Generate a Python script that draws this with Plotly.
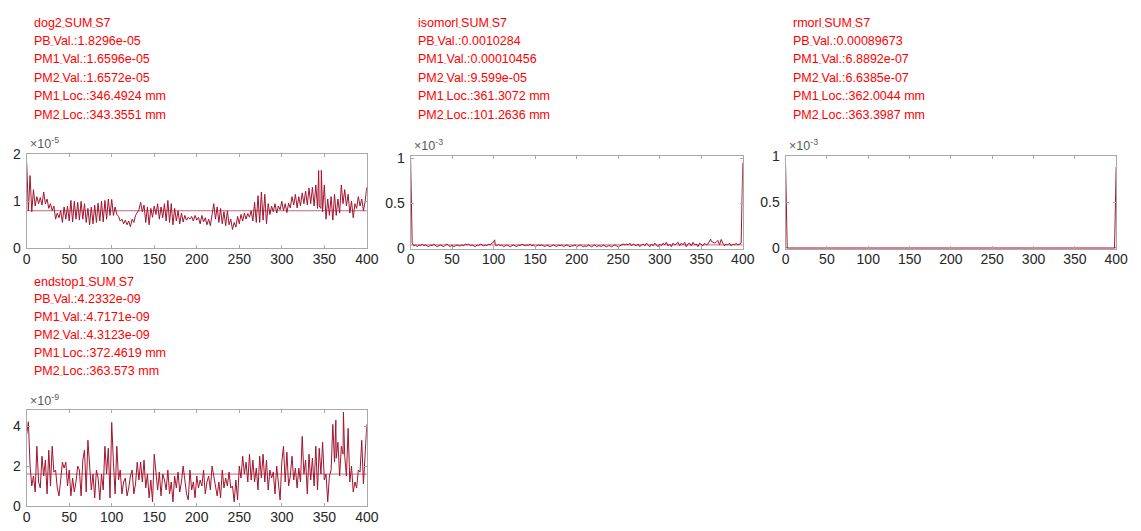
import numpy as np
import plotly.graph_objects as go

W, H = 1141, 531
LINE = "#A2142F"
FRAME = "#a9a9a9"
TICKTXT = "#262626"
FONT = "Liberation Sans, Arial, sans-serif"

# ---- series (2 mm sample step) ----
step_mm = 2

# dog2_SUM_S7, units of 1e-5
dog2_e5 = [
    1.8296, 0.80, 1.55, 0.78, 1.25, 0.90, 1.10, 0.95, 1.08, 0.92,
    1.20, 0.95, 1.05, 0.85, 0.95, 0.80, 0.90, 0.62, 0.75, 0.65,
    0.80, 0.55, 0.88, 0.62, 0.90, 0.58, 1.02, 0.56, 1.00, 0.62,
    0.98, 0.60, 1.00, 0.62, 0.95, 0.55, 0.85, 0.50, 0.88, 0.52,
    0.92, 0.55, 0.96, 0.58, 1.00, 0.56, 1.02, 0.62, 1.05, 0.70,
    1.04, 0.70, 0.88, 0.72, 0.68, 0.58, 0.62, 0.52, 0.60, 0.50,
    0.58, 0.46, 0.62, 0.55, 0.70, 0.76, 0.82, 0.98, 0.78, 0.92,
    0.55, 0.88, 0.50, 0.85, 0.66, 0.90, 0.72, 0.95, 0.62, 0.88,
    0.65, 0.95, 0.58, 1.02, 0.55, 0.95, 0.50, 0.85, 0.58, 0.80,
    0.52, 0.75, 0.56, 0.70, 0.60, 0.66, 0.62, 0.68, 0.58, 0.70,
    0.60, 0.66, 0.52, 0.70, 0.56, 0.65, 0.50, 0.62, 0.48, 0.72,
    0.95, 0.62, 0.88, 0.55, 0.85, 0.52, 0.78, 0.48, 0.80, 0.50,
    0.62, 0.40, 0.55, 0.45, 0.68, 0.52, 0.72, 0.58, 0.75, 0.62,
    0.74, 0.66, 0.80, 0.58, 0.98, 0.55, 1.12, 0.55, 1.20, 0.60,
    1.15, 0.52, 0.95, 0.72, 0.90, 0.78, 0.95, 0.75, 0.90, 0.82,
    1.00, 0.80, 0.95, 0.76, 0.96, 0.86, 1.10, 0.92, 1.15, 0.86,
    1.10, 0.90, 1.18, 0.95, 1.22, 0.92, 1.28, 0.95, 1.30, 0.90,
    1.35, 0.85, 0.90, 0.85, 0.78, 1.35, 0.62, 1.05, 0.70, 1.10,
    0.60, 1.15, 0.70, 1.05, 0.75, 1.35, 0.95, 1.25, 0.90, 1.15,
    0.75, 1.00, 0.65, 0.95, 0.85, 1.10, 0.90, 1.05, 0.80, 1.00,
    1.30,
]
dog2_peak_loc = [346.4924, 343.3551]
dog2_peak_val = [1.6596e-05, 1.6572e-05]
dog2_mean = 0.80e-5

# isomorl_SUM_S7, units of 1e-3
iso_e3 = [
    1.0284, 0.06, 0.03, 0.04, 0.02, 0.04, 0.03, 0.05, 0.03, 0.04,
    0.03, 0.02, 0.04, 0.03, 0.05, 0.03, 0.02, 0.03, 0.04, 0.03,
    0.02, 0.04, 0.05, 0.03, 0.02, 0.04, 0.02, 0.03, 0.04, 0.03,
    0.03, 0.04, 0.03, 0.05, 0.04, 0.05, 0.03, 0.04, 0.03, 0.02,
    0.04, 0.03, 0.05, 0.04, 0.03, 0.04, 0.03, 0.05, 0.04, 0.06,
    0.07, 0.04, 0.03, 0.05, 0.03, 0.04, 0.02, 0.03, 0.04, 0.03,
    0.02, 0.03, 0.04, 0.03, 0.02, 0.04, 0.03, 0.05, 0.04, 0.03,
    0.04, 0.03, 0.05, 0.03, 0.04, 0.02, 0.03, 0.04, 0.03, 0.04,
    0.03, 0.02, 0.04, 0.03, 0.02, 0.03, 0.04, 0.03, 0.02, 0.04,
    0.03, 0.04, 0.02, 0.03, 0.04, 0.03, 0.02, 0.03, 0.03, 0.04,
    0.02, 0.03, 0.04, 0.03, 0.02, 0.03, 0.02, 0.04, 0.03, 0.02,
    0.03, 0.04, 0.02, 0.03, 0.03, 0.02, 0.04, 0.03, 0.02, 0.03,
    0.03, 0.02, 0.03, 0.04, 0.03, 0.02, 0.03, 0.04, 0.05, 0.04,
    0.05, 0.04, 0.06, 0.03, 0.05, 0.04, 0.03, 0.05, 0.02, 0.04,
    0.05, 0.03, 0.06, 0.04, 0.02, 0.05, 0.03, 0.06, 0.04, 0.02,
    0.05, 0.03, 0.06, 0.04, 0.07, 0.03, 0.05, 0.02, 0.06, 0.04,
    0.05, 0.07, 0.03, 0.06, 0.04, 0.07, 0.02, 0.05, 0.06, 0.03,
    0.07, 0.04, 0.05, 0.02, 0.06, 0.04, 0.03, 0.06, 0.04, 0.05,
    0.09, 0.08, 0.07, 0.06, 0.07, 0.09, 0.04, 0.10, 0.06, 0.03,
    0.05, 0.04, 0.06, 0.03, 0.05, 0.04, 0.06, 0.04, 0.05, 0.06,
    0.95,
]
iso_peak_loc = [361.3072, 101.2636]
iso_peak_val = [0.00010456, 9.599e-05]
iso_mean = 0.04e-3

# rmorl_SUM_S7, units of 1e-7
rmorl_e7 = [
    8967.3, 1.2, 2.8, 3.5, 2.1, 3.9, 2.6, 3.1, 4.0, 2.4,
    3.3, 2.7, 3.8, 2.2, 3.0, 4.1, 2.5, 3.4, 2.9, 3.7,
    2.3, 3.6, 2.8, 4.2, 3.1, 2.6, 3.5, 2.9, 3.8, 2.4,
    3.2, 4.0, 2.7, 3.3, 2.5, 3.9, 3.0, 2.6, 3.6, 2.8,
    3.4, 2.2, 3.7, 3.1, 4.3, 2.9, 3.5, 2.7, 3.9, 4.4,
    4.6, 3.0, 2.8, 3.5, 2.4, 3.3, 3.8, 2.6, 3.1, 2.9,
    3.6, 2.5, 3.2, 3.9, 2.7, 3.4, 2.3, 3.7, 3.0, 2.8,
    3.5, 2.6, 4.0, 3.1, 2.9, 3.3, 2.4, 3.8, 3.2, 2.7,
    3.0, 3.6, 2.5, 3.4, 2.8, 3.9, 3.1, 2.6, 3.5, 3.2,
    2.9, 3.3, 2.4, 3.7, 3.0, 2.7, 3.4, 2.8, 3.6, 3.1,
    2.6, 3.5, 3.0, 2.8, 3.3, 2.5, 3.8, 3.1, 2.9, 3.4,
    3.2, 2.7, 3.6, 3.0, 2.8, 3.5, 2.6, 3.3, 3.9, 2.9,
    3.4, 3.1, 2.7, 3.8, 3.2, 2.9, 3.6, 4.0, 3.3, 4.2,
    3.8, 4.5, 3.5, 4.1, 3.7, 4.8, 3.2, 4.4, 3.9, 4.6,
    4.2, 3.6, 4.9, 4.0, 3.5, 4.7, 4.3, 3.8, 5.1, 4.1,
    4.6, 3.9, 5.0, 4.4, 5.3, 4.0, 4.8, 3.7, 5.2, 4.5,
    4.9, 5.4, 4.2, 5.1, 4.6, 5.5, 3.9, 4.8, 5.2, 4.4,
    5.6, 4.7, 5.0, 4.1, 5.3, 4.8, 4.3, 5.4, 4.9, 5.1,
    5.8, 6.2, 5.9, 5.5, 6.0, 5.2, 5.7, 4.9, 5.4, 4.6,
    5.0, 4.4, 5.2, 4.7, 4.1, 4.9, 4.5, 3.8, 4.2, 3.5,
    8800.0,
]
rmorl_peak_loc = [362.0044, 363.3987]
rmorl_peak_val = [6.8892e-07, 6.6385e-07]
rmorl_mean = 0.009e-3

# endstop1_SUM_S7, units of 1e-9
endstop_e9 = [
    3.60, 4.2332, 2.0, 1.0, 1.5, 0.7, 3.0, 1.2, 0.9, 2.5,
    1.5, 2.3, 0.6, 2.8, 1.0, 3.0, 1.7, 1.8, 0.9, 0.5,
    1.3, 2.2, 1.9, 2.2, 1.0, 1.8, 0.5, 1.4, 0.7, 1.2,
    2.0, 1.8, 0.5, 2.3, 2.8, 0.7, 3.3, 1.7, 0.8, 1.6,
    0.4, 1.8, 1.4, 0.3, 1.6, 0.8, 3.0, 1.6, 2.9, 0.4,
    4.2, 2.2, 0.6, 3.0, 1.3, 1.8, 0.6, 1.2, 1.4, 0.5,
    0.9, 1.5, 1.8, 0.6, 1.1, 2.2, 1.3, 2.2, 1.2, 2.3,
    0.9, 1.6, 0.4, 1.3, 0.2, 2.6, 1.8, 0.8, 1.7, 0.5,
    1.6, 1.3, 0.8, 1.8, 0.6, 1.2, 0.2, 1.5, 0.9, 1.7,
    0.7, 1.2, 2.0, 1.4, 0.6, 0.3, 1.8, 0.8, 1.2, 0.4,
    1.5, 0.9, 1.3, 1.0, 1.8, 0.6, 1.2, 1.5, 0.8, 2.0,
    1.5, 1.0, 0.5, 1.2, 0.4, 1.8, 0.9, 1.4, 1.0, 1.7,
    0.9, 1.0, 0.2, 1.3, 0.3, 2.0, 1.4, 2.5, 1.6, 2.2,
    1.2, 2.6, 1.3, 2.3, 1.2, 1.9, 0.8, 2.5, 1.4, 2.6,
    1.2, 2.3, 0.8, 1.8, 1.4, 1.7, 0.6, 2.0, 1.3, 0.3,
    2.2, 3.0, 1.2, 2.7, 1.0, 1.5, 2.5, 1.3, 1.9, 0.9,
    1.9, 1.2, 3.5, 1.6, 2.3, 0.6, 2.6, 1.3, 2.4, 1.0,
    3.0, 0.8, 2.9, 1.6, 3.2, 1.3, 1.6, 0.2, 1.5, 1.8,
    4.1, 2.2, 2.4, 3.2, 1.5, 3.0, 2.6, 2.5, 1.5, 3.9,
    1.2, 2.0, 0.7, 1.2, 0.9, 1.8, 1.7, 3.3, 1.1, 2.9,
    4.1,
]
endstop_peak_loc = [372.4619, 363.573]
endstop_peak_val = [4.7171e-09, 4.3123e-09]
endstop_mean = 1.6e-9

# ---- labels shown above each panel ----
titles = ["dog2_SUM_S7", "isomorl_SUM_S7", "rmorl_SUM_S7", "endstop1_SUM_S7"]
pb_vals = ["1.8296e-05", "0.0010284", "0.00089673", "4.2332e-09"]
pm1_vals = ["1.6596e-05", "0.00010456", "6.8892e-07", "4.7171e-09"]
pm2_vals = ["1.6572e-05", "9.599e-05", "6.6385e-07", "4.3123e-09"]
pm1_locs = ["346.4924", "361.3072", "362.0044", "372.4619"]
pm2_locs = ["343.3551", "101.2636", "363.3987", "363.573"]

x_ticks = [0, 50, 100, 150, 200, 250, 300, 350, 400]
y_tick_text = [["0", "1", "2"], ["0", "0.5", "1"], ["0", "0.5", "1"], ["0", "2", "4"]]
y_tick_vals = [[0, 1e-5, 2e-5], [0, 0.5e-3, 1e-3], [0, 0.5e-3, 1e-3], [0, 2e-9, 4e-9]]
exponents = ["-5", "-3", "-3", "-9"]
y_limits = [[0, 2e-5], [0, 1.0284e-3], [0, 1e-3], [0, 4.8e-9]]


def build(vals, scale, peak_loc, peak_val):
    x = np.arange(len(vals)) * step_mm
    y = np.asarray(vals, dtype=float) * scale
    x = np.concatenate([x, np.asarray(peak_loc, dtype=float)])
    y = np.concatenate([y, np.asarray(peak_val, dtype=float)])
    order = np.argsort(x, kind="stable")
    return x[order], y[order]


series = [
    build(dog2_e5, 1e-5, dog2_peak_loc, dog2_peak_val),
    build(iso_e3, 1e-3, iso_peak_loc, iso_peak_val),
    build(rmorl_e7, 1e-7, rmorl_peak_loc, rmorl_peak_val),
    build(endstop_e9, 1e-9, endstop_peak_loc, endstop_peak_val),
]
means = [dog2_mean, iso_mean, rmorl_mean, endstop_mean]

# pixel boxes of the four axes: (left, right, top, bottom)
boxes = [
    (23, 368, 151, 247.7),
    (412.3, 749.3, 152.3, 248),
    (792.7, 1128, 152.5, 248),
    (23, 368, 415, 513.3),
]
# text blocks: (left x, first line y, line step)
text_blocks = [(28, 15, 19), (418, 15, 19), (798, 15, 19), (28, 282, 18.5)]


def px(x):
    return x / W


def py(y):
    return 1 - y / H


fig = go.Figure()
layout = dict(
    width=W, height=H, margin=dict(l=0, r=0, t=0, b=0),
    paper_bgcolor="white", plot_bgcolor="white", showlegend=False,
    font=dict(family=FONT, color=TICKTXT),
)
annotations = []

US = '<span style="font-size:5px">_</span>'

for i, ((xs, ys), m) in enumerate(zip(series, means)):
    sfx = "" if i == 0 else str(i + 1)
    xa, ya = "x" + sfx, "y" + sfx
    fig.add_trace(go.Scatter(x=xs, y=ys, mode="lines", xaxis=xa, yaxis=ya,
                             line=dict(color=LINE, width=1), hoverinfo="skip"))
    fig.add_trace(go.Scatter(x=[0, 400], y=[m, m], mode="lines", xaxis=xa, yaxis=ya,
                             line=dict(color=LINE, width=0.8), opacity=0.8,
                             hoverinfo="skip"))
    l, r, t, b = boxes[i]
    common = dict(showline=True, linecolor=FRAME, linewidth=1, mirror="ticks",
                  ticks="inside", ticklen=3, tickcolor=FRAME, tickwidth=1,
                  showgrid=False, zeroline=False,
                  tickfont=dict(family=FONT, size=14, color=TICKTXT))
    layout["xaxis" + sfx] = dict(common, domain=[px(l), px(r)], range=[0, 400],
                                 tickvals=x_ticks, anchor=ya, ticklabelstandoff=-2)
    layout["yaxis" + sfx] = dict(common, domain=[py(b), py(t)], range=y_limits[i],
                                 tickvals=y_tick_vals[i], ticktext=y_tick_text[i],
                                 anchor=xa, ticklabelstandoff=2)
    annotations.append(dict(
        text="×10<sup>" + exponents[i] + "</sup>", xref="paper", yref="paper",
        x=px(l + 1), y=py(t - 1), xanchor="left", yanchor="bottom", showarrow=False,
        font=dict(family=FONT, size=12.5, color="#5a5a5a")))

    tx, ty, dy = text_blocks[i]
    lines = [
        titles[i].replace("_", US),
        "PB" + US + "Val.:" + pb_vals[i],
        "PM1" + US + "Val.:" + pm1_vals[i],
        "PM2" + US + "Val.:" + pm2_vals[i],
        "PM1" + US + "Loc.:" + pm1_locs[i] + " mm",
        "PM2" + US + "Loc.:" + pm2_locs[i] + " mm",
    ]
    for k, s in enumerate(lines):
        annotations.append(dict(
            text=s, xref="paper", yref="paper", x=px(tx), y=py(ty + k * dy),
            xanchor="left", yanchor="middle", showarrow=False,
            font=dict(family=FONT, size=12.5, color="#ff0000")))

layout["annotations"] = annotations
fig.update_layout(**layout)
fig.write_html("out.html")
